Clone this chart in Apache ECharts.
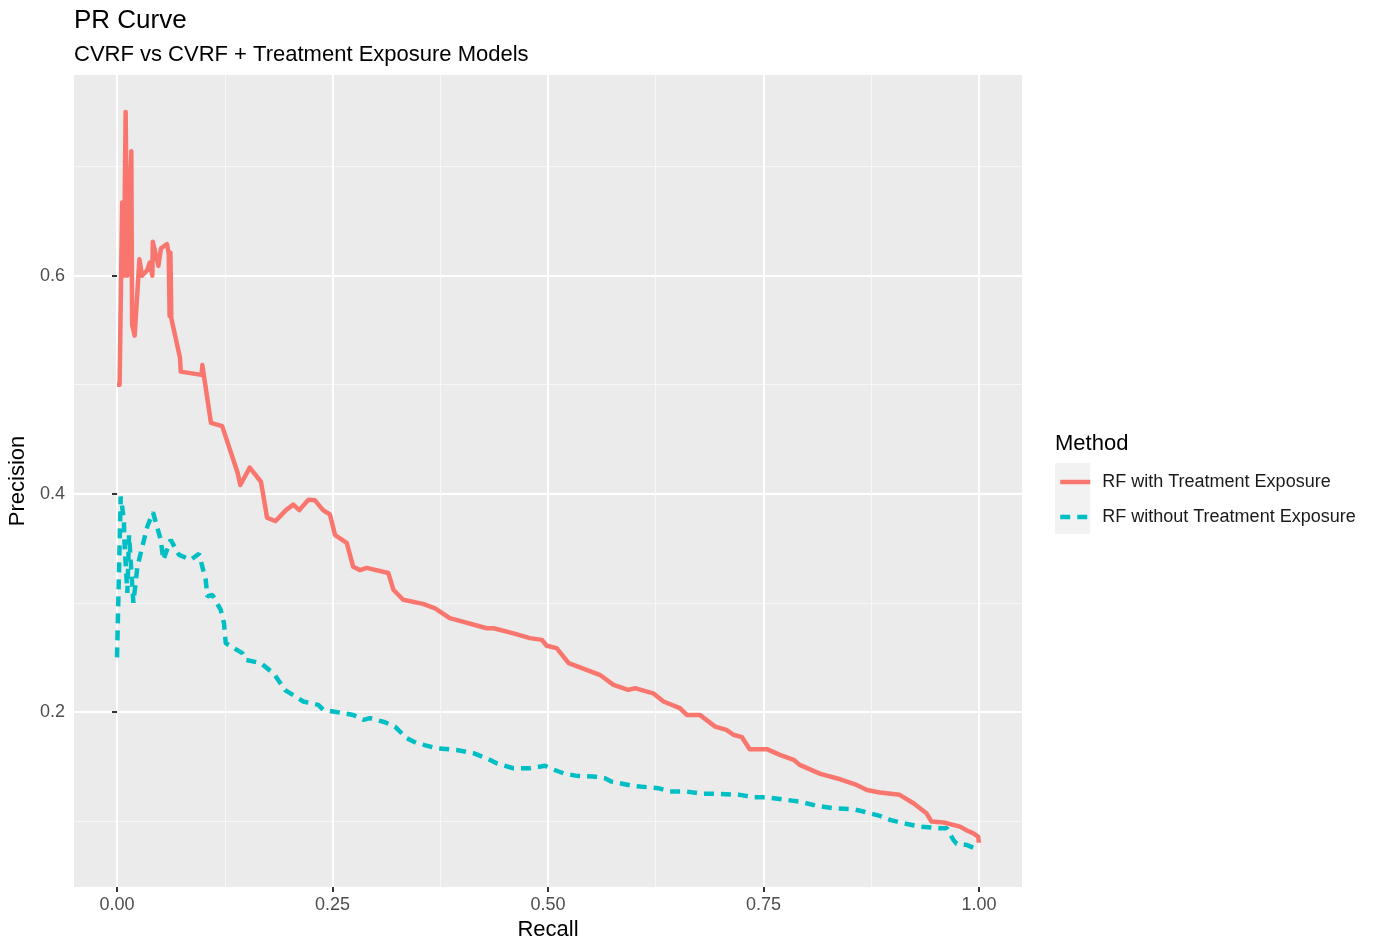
<!DOCTYPE html>
<html>
<head>
<meta charset="utf-8">
<script src="https://cdn.jsdelivr.net/npm/echarts@6/dist/echarts.min.js"></script>
<style>html,body{margin:0;padding:0;background:#fff}#c{width:1374px;height:938px}</style>
</head>
<body>
<div id="c"></div>
<script>
const seriesNames = ['RF with Treatment Exposure', 'RF without Treatment Exposure'];
const recallWith = [0.000,0.003,0.006,0.008,0.010,0.012,0.0166,0.0175,0.0205,0.026,0.029,0.035,0.038,0.041,0.0415,0.048,0.051,0.058,0.060,0.061,0.062,0.063,0.073,0.074,0.098,0.099,0.109,0.122,0.140,0.143,0.154,0.167,0.172,0.174,0.184,0.196,0.2045,0.2115,0.222,0.2297,0.239,0.247,0.253,0.2665,0.274,0.282,0.2897,0.3148,0.3206,0.332,0.355,0.369,0.386,0.429,0.437,0.460,0.479,0.493,0.4985,0.510,0.524,0.560,0.576,0.593,0.601,0.622,0.634,0.653,0.661,0.676,0.694,0.707,0.715,0.725,0.734,0.754,0.769,0.785,0.792,0.816,0.839,0.858,0.870,0.885,0.908,0.924,0.939,0.945,0.959,0.978,0.986,0.993,0.999,1.000];
const precisionWith = [0.500,0.500,0.667,0.600,0.750,0.600,0.714,0.555,0.545,0.615,0.600,0.605,0.612,0.600,0.631,0.609,0.625,0.629,0.620,0.563,0.621,0.561,0.525,0.512,0.509,0.518,0.465,0.462,0.419,0.408,0.424,0.411,0.388,0.378,0.375,0.385,0.390,0.385,0.3945,0.394,0.385,0.381,0.362,0.355,0.333,0.330,0.332,0.3273,0.312,0.3028,0.299,0.295,0.286,0.2767,0.2767,0.272,0.2676,0.266,0.2606,0.2584,0.2447,0.234,0.2248,0.2202,0.2217,0.217,0.2095,0.2034,0.1972,0.1972,0.1865,0.1835,0.179,0.1768,0.1658,0.1658,0.1606,0.156,0.1514,0.1431,0.1382,0.133,0.1284,0.126,0.1239,0.1162,0.1071,0.0994,0.0985,0.0948,0.0912,0.0888,0.0857,0.080];
const recallWithout = [0.000,0.0023,0.0043,0.008,0.0085,0.012,0.014,0.019,0.0236,0.0294,0.0352,0.0418,0.0507,0.0537,0.0623,0.0719,0.0855,0.0951,0.1029,0.1048,0.1106,0.1203,0.1241,0.1261,0.1357,0.1454,0.1493,0.1667,0.1821,0.195,0.2161,0.2335,0.2393,0.2509,0.2741,0.2857,0.2935,0.3109,0.3225,0.336,0.3477,0.3709,0.394,0.4134,0.4289,0.4405,0.4598,0.4791,0.4965,0.5023,0.5178,0.5333,0.5526,0.5661,0.5739,0.5797,0.599,0.628,0.6415,0.6609,0.6802,0.6957,0.7227,0.7382,0.7537,0.7769,0.7923,0.8117,0.831,0.8542,0.8658,0.8851,0.8967,0.9122,0.9316,0.9548,0.9625,0.9703,0.9741,0.9857,1.000];
const precisionWithout = [0.250,0.2507,0.3975,0.376,0.358,0.309,0.362,0.300,0.333,0.3517,0.370,0.3829,0.3578,0.3394,0.3578,0.344,0.3394,0.345,0.3211,0.3058,0.3073,0.2936,0.2814,0.263,0.2584,0.2538,0.2477,0.2447,0.2349,0.220,0.2095,0.2064,0.2018,0.2003,0.1972,0.1927,0.1942,0.1905,0.1865,0.1759,0.1713,0.1667,0.1651,0.1621,0.1575,0.1529,0.1483,0.1483,0.1505,0.1483,0.1437,0.1413,0.1407,0.1392,0.136,0.1351,0.1321,0.130,0.1269,0.1269,0.1248,0.1248,0.1239,0.1217,0.1217,0.1193,0.1177,0.1138,0.1117,0.1107,0.1086,0.1046,0.101,0.0979,0.0948,0.0933,0.0933,0.0826,0.079,0.078,0.0734];
const xTicks = [0, 0.25, 0.5, 0.75, 1.0];
const xMinor = [0.125, 0.375, 0.625, 0.875];
const yTicks = [0.2, 0.4, 0.6];
const yMinor = [0.1, 0.3, 0.5, 0.7];

const X_MIN = -0.0499, X_MAX = 1.0499, Y_MIN = 0.0394, Y_MAX = 0.784;
const FONT = 'Liberation Sans, Arial, sans-serif';

const chart = echarts.init(document.getElementById('c'), null, {renderer: 'canvas'});
const zip = (a, b) => a.map((v, i) => [v, b[i]]);

const option = {
  animation: false,
  backgroundColor: '#ffffff',
  textStyle: {fontFamily: FONT},
  title: [
    {text: 'PR Curve', left: 69, top: 3, textStyle: {fontFamily: FONT, fontSize: 26, fontWeight: 'normal', color: '#000'}},
    {text: 'CVRF vs CVRF + Treatment Exposure Models', left: 69, top: 39, textStyle: {fontFamily: FONT, fontSize: 22, fontWeight: 'normal', color: '#000'}},
    {text: 'Method', left: 1050, top: 428, textStyle: {fontFamily: FONT, fontSize: 22, fontWeight: 'normal', color: '#000'}}
  ],
  graphic: [
    {type: 'rect', left: 1055, top: 463, shape: {width: 35, height: 71}, style: {fill: '#F2F2F2'}, z: 0}
  ],
  legend: {
    orient: 'vertical', left: 1053, top: 468, itemWidth: 30, itemHeight: 14, itemGap: 17,
    data: seriesNames,
    itemStyle: {color: 'rgba(0,0,0,0)', borderColor: 'rgba(0,0,0,0)', borderWidth: 0, opacity: 0},
    lineStyle: {width: 4.5},
    textStyle: {fontFamily: FONT, fontSize: 18, color: '#1a1a1a', padding: [0, 0, 0, 7]}
  },
  grid: {left: 74, top: 75, width: 948, height: 812, show: true, backgroundColor: '#EBEBEB', borderWidth: 0, outerBoundsMode: 'none', containLabel: false},
  xAxis: [
    {
      type: 'value', min: X_MIN, max: X_MAX, position: 'bottom',
      name: 'Recall', nameLocation: 'middle', nameGap: 29,
      nameTextStyle: {fontFamily: FONT, fontSize: 22, color: '#000'},
      axisLine: {show: false},
      axisTick: {show: true, length: 5, lineStyle: {color: '#333', width: 2}, customValues: xTicks},
      axisLabel: {customValues: xTicks, formatter: v => v.toFixed(2), fontFamily: FONT, fontSize: 18, color: '#4D4D4D', margin: 9},
      splitLine: {show: true, lineStyle: {color: '#fff', width: 2}}
    },
    {
      type: 'value', min: X_MIN, max: X_MAX, position: 'bottom',
      axisLine: {show: false},
      axisTick: {show: false, customValues: xMinor},
      axisLabel: {show: false, customValues: xMinor},
      splitLine: {show: true, lineStyle: {color: '#F7F7F7', width: 1}}
    }
  ],
  yAxis: [
    {
      type: 'value', min: Y_MIN, max: Y_MAX,
      name: 'Precision', nameLocation: 'middle', nameGap: 38, nameRotate: 90,
      nameTextStyle: {fontFamily: FONT, fontSize: 22, color: '#000'},
      axisLine: {show: false},
      axisTick: {show: true, length: 5, lineStyle: {color: '#333', width: 2}, customValues: yTicks},
      axisLabel: {customValues: yTicks, formatter: v => v.toFixed(1), fontFamily: FONT, fontSize: 18, color: '#4D4D4D', margin: 9},
      splitLine: {show: true, lineStyle: {color: '#fff', width: 2}}
    },
    {
      type: 'value', min: Y_MIN, max: Y_MAX, position: 'left',
      axisLine: {show: false},
      axisTick: {show: false, customValues: yMinor},
      axisLabel: {show: false, customValues: yMinor},
      splitLine: {show: true, lineStyle: {color: '#F7F7F7', width: 1}}
    }
  ],
  series: [
    {
      name: seriesNames[0], type: 'line', xAxisIndex: 0, yAxisIndex: 0,
      data: zip(recallWith, precisionWith), showSymbol: false, symbol: 'none',
      itemStyle: {color: '#F8766D'},
      lineStyle: {color: '#F8766D', width: 4.5, join: 'round'}, z: 3
    },
    {
      name: seriesNames[1], type: 'line', xAxisIndex: 0, yAxisIndex: 0,
      data: zip(recallWithout, precisionWithout), showSymbol: false, symbol: 'none',
      itemStyle: {color: '#00BFC4'},
      lineStyle: {color: '#00BFC4', width: 4.5, type: [10, 7]}, z: 3
    }
  ]
};
chart.setOption(option);
</script>
</body>
</html>
